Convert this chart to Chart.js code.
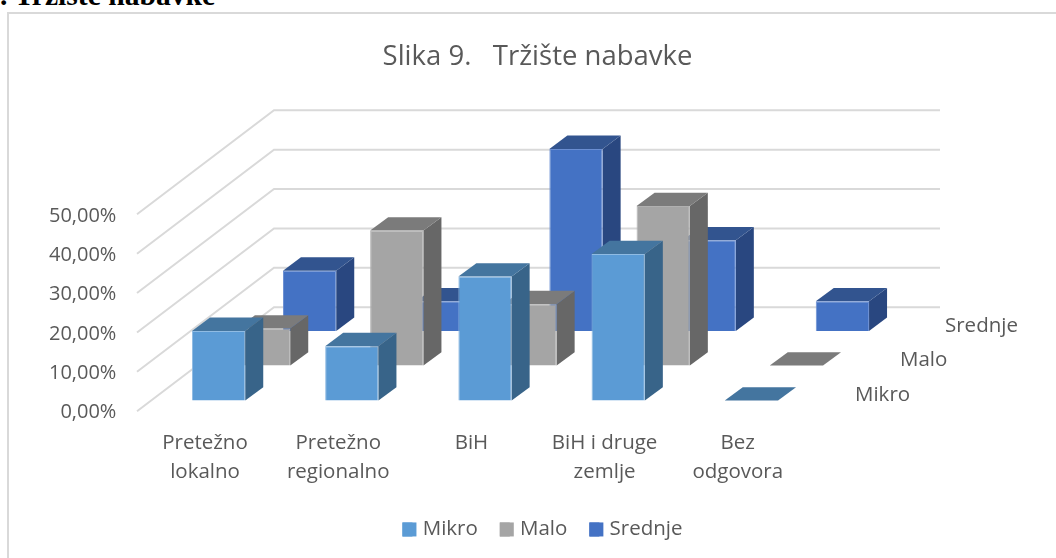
<!DOCTYPE html>
<html>
<head>
<meta charset="utf-8">
<script src="https://cdn.jsdelivr.net/npm/chart.js@4"></script>
<style>
html,body{margin:0;padding:0;background:#fff;width:1056px;height:558px;overflow:hidden}
#heading{position:absolute;left:0;top:-21px;font:bold 29.6px "Liberation Serif",serif;color:#000;white-space:pre}
#frame{position:absolute;left:7px;top:12px;width:1100px;height:600px;border:2px solid #D9D9D9;box-sizing:border-box}
canvas{position:absolute;left:0;top:0}
</style>
</head>
<body>
<div id="heading">. Tržište nabavke</div>
<div id="frame"></div>
<canvas id="c" width="1056" height="558"></canvas>
<script>
const categories = [["Pretežno","lokalno"],["Pretežno","regionalno"],"BiH",["BiH i druge","zemlje"],["Bez","odgovora"]];
const seriesNames = ["Mikro","Malo","Srednje"];
const mikro = [17.7,13.8,31.5,37.2,0];
const malo = [9.4,34.3,15.6,40.5,0];
const srednje = [15.3,7.5,46.2,23.0,7.5];
const titleText = "Slika 9.   Tržište nabavke";

const FONT = '"Open Sans", sans-serif';
const TXT = '#595959';
const LEGEND_PAD = 22;
const looks = [
  {front:'#5B9BD5',edge:'#8FBBE3',top:'#44759F',side:'#386489',dx:13.6,dy:-10.6,labelX:855,labelY:395},
  {front:'#A5A5A5',edge:'#B0B0B0',top:'#7B7B7B',side:'#676767',dx:58.6,dy:-45.6,labelX:900,labelY:360},
  {front:'#4472C4',edge:'#6A8ED2',top:'#32548F',side:'#294780',dx:104.6,dy:-80.3,labelX:945,labelY:326}
];
const DEPTH_X = 18, DEPTH_Y = 13.4;
const WALL_X = 137, WALL_DY = 104, BACK_X = 274, BACK_END = 940;

const threeD = {
  id:'threeD',
  afterLayout(chart){
    chart.legend.left += 10;
    chart.legend.adjustHitBoxes();
  },
  beforeDatasetsDraw(chart){
    const ctx = chart.ctx, y = chart.scales.y;
    ctx.save();
    ctx.strokeStyle = '#D9D9D9';
    ctx.lineWidth = 2;
    y.ticks.forEach(t=>{
      const py = y.getPixelForValue(t.value);
      ctx.beginPath();
      ctx.moveTo(WALL_X,py);
      ctx.lineTo(BACK_X,py-WALL_DY);
      ctx.lineTo(BACK_END,py-WALL_DY);
      ctx.stroke();
    });
    ctx.restore();
  },
  beforeDatasetDraw(chart,args){
    const ctx = chart.ctx, L = looks[args.index];
    ctx.save();
    ctx.translate(L.dx,L.dy);
    args.meta.data.forEach(el=>{
      const l = el.x-el.width/2, r = el.x+el.width/2, t = el.y, b = el.base;
      if (b-t>0.5){
        ctx.fillStyle = L.side;
        ctx.beginPath();
        ctx.moveTo(r,t);ctx.lineTo(r+DEPTH_X,t-DEPTH_Y);ctx.lineTo(r+DEPTH_X,b-DEPTH_Y);ctx.lineTo(r,b);ctx.closePath();
        ctx.fill();
      }
      ctx.fillStyle = L.top;
      ctx.beginPath();
      ctx.moveTo(l,t);ctx.lineTo(l+DEPTH_X,t-DEPTH_Y);ctx.lineTo(r+DEPTH_X,t-DEPTH_Y);ctx.lineTo(r,t);ctx.closePath();
      ctx.fill();
    });
  },
  afterDatasetDraw(chart){ chart.ctx.restore(); },
  afterDatasetsDraw(chart){
    const ctx = chart.ctx;
    ctx.save();
    ctx.fillStyle = TXT;
    ctx.font = '20.5px '+FONT;
    ctx.textBaseline = 'middle';
    ctx.textAlign = 'left';
    seriesNames.forEach((n,i)=>ctx.fillText(n,looks[i].labelX,looks[i].labelY));
    ctx.restore();
  },
  afterDraw(chart){
    const ctx = chart.ctx, lg = chart.legend;
    ctx.save();
    lg.legendHitBoxes.forEach((h,i)=>{
      ctx.fillStyle = looks[i].front;
      ctx.fillRect(h.left,lg.top+LEGEND_PAD+(h.height-14)/2,14,14);
    });
    ctx.restore();
  }
};

const sets = [mikro,malo,srednje];
new Chart(document.getElementById('c'),{
  type:'bar',
  data:{
    labels:categories,
    datasets:seriesNames.map((n,i)=>({
      label:n,data:sets[i],
      backgroundColor:looks[i].front,
      borderColor:looks[i].edge,
      borderWidth:1,
      clip:false,
      barPercentage:0.4,
      categoryPercentage:1,
      grouped:false
    }))
  },
  plugins:[threeD],
  options:{
    responsive:false,
    animation:false,
    devicePixelRatio:1,
    layout:{padding:{left:19,right:0,top:0,bottom:8.3}},
    plugins:{
      tooltip:{enabled:false},
      title:{display:true,text:titleText,color:TXT,font:{family:FONT,size:27.5,weight:'normal',lineHeight:1.2},
        padding:{top:40.8,bottom:140.5}},
      legend:{position:'bottom',
        labels:{boxWidth:10,boxHeight:14,padding:LEGEND_PAD,color:TXT,font:{family:FONT,size:20.5},
          generateLabels:(c)=>seriesNames.map((n,i)=>({text:n,fillStyle:looks[i].front,strokeStyle:looks[i].front,lineWidth:0,datasetIndex:i,fontColor:TXT}))}}
    },
    scales:{
      x:{type:'category',offset:true,grid:{display:false,drawTicks:false},border:{display:false},
        ticks:{color:TXT,maxRotation:0,autoSkip:false,padding:17,font:{family:FONT,size:20.5,lineHeight:1.42}},
        afterFit:s=>{s.height=86;}},
      y:{type:'linear',min:0,max:50,position:'left',grid:{display:false,drawTicks:false},border:{display:false},
        ticks:{stepSize:10,color:TXT,padding:22,labelOffset:1.5,font:{family:FONT,size:20},
          callback:v=>v.toFixed(2).replace('.',',')+'%'},
        afterFit:s=>{s.width=119.4;}},
      pad:{type:'linear',position:'right',grid:{display:false,drawTicks:false},border:{display:false},
        ticks:{display:false},afterFit:s=>{s.width=251.6;}}
    }
  }
});
</script>
</body>
</html>
